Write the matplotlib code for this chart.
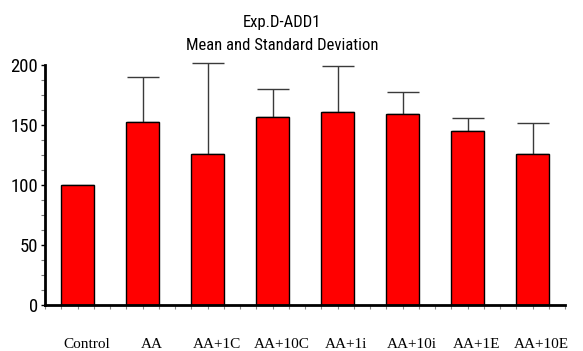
import matplotlib
matplotlib.use('Agg')
import matplotlib.pyplot as plt
import matplotlib.transforms as mtransforms
import numpy as np

# data
groups = ['Control', 'AA', 'AA+1C', 'AA+10C', 'AA+1i', 'AA+10i', 'AA+1E', 'AA+10E']
means = [100, 152.5, 125.5, 156.5, 161, 159, 145, 126]
sds = [np.nan, 37.5, 76, 23.5, 38, 18.5, 11, 26]

narrow = ['Roboto Condensed', 'DejaVu Sans']

fig = plt.figure(figsize=(5.83, 3.51), dpi=100)
ax = fig.add_axes([45/583, 1-305/351, 520/583, 240/351])

x = np.arange(len(groups))
ax.bar(x, means, width=0.5, color='#ff0000', edgecolor='black', linewidth=1.0, zorder=2)
# only the upper half of each error bar
eb = ax.errorbar(x, means, yerr=[np.zeros(len(sds)), sds], fmt='none', ecolor='#3a3a3a',
                 elinewidth=1.0, capsize=11.5, capthick=1.0, zorder=1)
for art in eb.lines[1] + eb.lines[2]:
    art.set_clip_on(False)

ax.set_xlim(-0.5, 7.5)
ax.set_ylim(0, 200)

for s in ['top', 'right']:
    ax.spines[s].set_visible(False)
ax.spines['left'].set_linewidth(2)
ax.spines['bottom'].set_linewidth(2)

ax.set_yticks([0, 50, 100, 150, 200])
ax.set_yticks(np.arange(0, 201, 12.5), minor=True)
ax.tick_params(axis='y', which='major', direction='out', length=3, width=1, pad=2)
ax.tick_params(axis='y', which='minor', direction='out', length=3, width=0.8, color='#777777')
for lab in ax.get_yticklabels():
    lab.set_family(narrow)
    lab.set_fontsize(13.5)

ax.set_xticks(x)
ax.set_xticks(np.arange(-0.5, 7.51, 0.25), minor=True)
ax.set_xticklabels(groups, family=['Liberation Serif', 'DejaVu Serif'], fontsize=11)
ax.tick_params(axis='x', which='both', direction='out', length=3, width=0.8,
               color='#888888', pad=21)
offset = mtransforms.ScaledTranslation(9/100, 0, fig.dpi_scale_trans)
for lab in ax.get_xticklabels():
    lab.set_transform(lab.get_transform() + offset)

fig.text(282/583, 1-22/351, 'Exp.D-ADD1', ha='center', va='center',
         family=narrow, fontsize=12)
fig.text(282/583, 1-45/351, 'Mean and Standard Deviation', ha='center', va='center',
         family=narrow, fontsize=12)

fig.savefig('out.png', dpi=100)
